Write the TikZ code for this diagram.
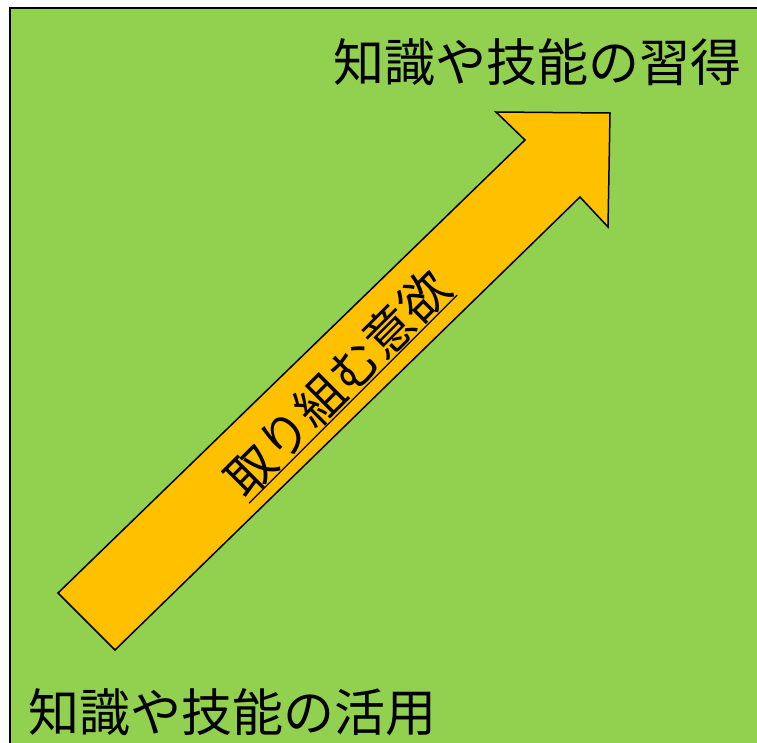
\documentclass[tikz,border=0pt]{standalone}
\usepackage{fontspec}
\newfontfamily\jpfont{Noto Sans CJK JP}
\definecolor{bggreen}{HTML}{92D050}
\definecolor{arroworange}{HTML}{FFC000}
\begin{document}
\begin{tikzpicture}[x=1pt,y=-1pt,
  bigtext/.style={font=\jpfont\fontsize{51}{60}\selectfont, inner sep=0pt},
  arrowtext/.style={font=\jpfont\fontsize{49}{58}\selectfont, inner sep=0pt, rotate=45}]
\useasboundingbox (0,0) rectangle (757,742);
\clip (0,0) rectangle (757,742);
\fill[white] (0,0) rectangle (757,742);
\draw[line width=2.5pt, fill=bggreen] (10,8) rectangle (770,760);
\draw[line width=1.5pt, fill=arroworange, line join=miter]
  (58,593) -- (525,140) -- (496,112) -- (610,113) -- (608,227) -- (580,197) -- (115,650) -- cycle;
\node[bigtext] (top) at (537.5,62) {知識や技能の習得};
\node[bigtext] (bottom) at (232.5,712) {知識や技能の活用};
\node[arrowtext] (lab) at (337,383) {取り組む意欲};
\draw[line width=1.3pt] (lab.south west) -- (lab.south east);
\end{tikzpicture}
\end{document}
